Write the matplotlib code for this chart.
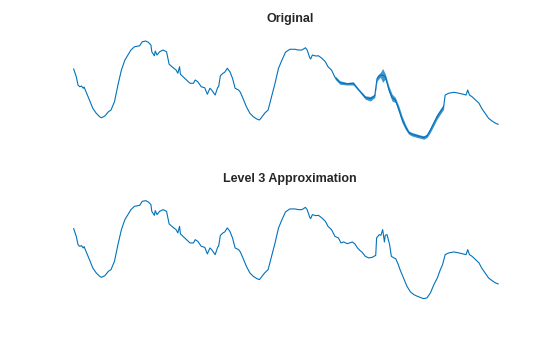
import matplotlib
matplotlib.use("Agg")
import matplotlib.pyplot as plt
import numpy as np

# ---- Original signal (sample index, value) ----
orig_idx = [8, 32, 48, 64, 80, 96, 104, 128, 160, 184, 216, 248, 264, 296, 328, 352, 384, 416, 448, 480,
            512, 536, 568, 616, 640, 672, 696, 720, 728, 752, 760, 776, 800, 832, 864, 888, 920, 952, 968,
            984, 992, 1016, 1048, 1080, 1112, 1128, 1152, 1184, 1216, 1240, 1264, 1280, 1312, 1336, 1344,
            1360, 1384, 1400, 1424, 1448, 1472, 1496, 1528, 1544, 1568, 1600, 1632, 1664, 1696, 1720, 1744,
            1768, 1800, 1832, 1864, 1896, 1928, 1960, 2000, 2048, 2080, 2112, 2144, 2160, 2184, 2192, 2208,
            2240, 2264, 2296, 2328, 2352, 2384]
orig_val = [364, 333, 300, 293, 296, 287, 292, 267, 233, 207, 187, 173, 169, 176, 193, 200, 233, 300, 360, 400,
            423, 440, 453, 457, 473, 476, 471, 460, 433, 417, 436, 420, 433, 440, 433, 383, 371, 360, 347,
            373, 343, 333, 320, 307, 307, 320, 313, 293, 289, 263, 287, 280, 260, 291, 293,
            337, 347, 351, 367, 353, 327, 287, 280, 271, 247, 213, 187, 173, 164, 160, 173,
            187, 200, 253, 307, 367, 400, 431, 443, 443, 440, 440, 449, 440, 409, 404, 420,
            416, 417, 407, 393, 373, 360]

# noisy stretch of the original: lower / upper envelope
band_idx = [2417, 2462, 2525, 2585, 2635, 2696, 2742, 2783, 2804, 2834, 2856, 2880, 2912, 2942, 2973,
            3004, 3034, 3065, 3096, 3126, 3172, 3203, 3234, 3265, 3295, 3326, 3357, 3387, 3418]
band_lo = [323, 303, 300, 300, 276, 243, 236, 250, 316, 331, 311, 323, 271, 236, 230,
           190, 150, 123, 103, 96, 90, 87, 83, 90, 110, 136, 163, 183, 203]
band_hi = [337, 317, 310, 313, 285, 257, 254, 264, 337, 350, 366, 345, 297, 264, 250,
           217, 177, 144, 117, 110, 104, 100, 97, 104, 130, 157, 184, 204, 224]

tail_idx = [3432, 3464, 3512, 3560, 3600, 3624, 3640, 3656, 3680, 3712, 3744, 3768, 3800, 3832, 3864, 3896, 3920]
tail_val = [260, 267, 271, 267, 263, 260, 280, 260, 253, 240, 227, 207, 187, 167, 156, 147, 143]

# ---- Level 3 approximation (coefficient index, value) ----
ca3_idx = [1, 4, 6, 8, 10, 12, 13, 16, 20, 23, 27, 31, 33, 37, 41, 44, 48, 52, 56, 60, 64, 67, 71, 77, 80,
           84, 87, 90, 91, 94, 95, 97, 100, 104, 108, 111, 115, 119, 121, 123, 124, 127, 131, 135, 139,
           141, 144, 148, 152, 155, 158, 160, 164, 167, 168, 170, 173, 175, 178, 181, 184, 187, 191, 193,
           196, 200, 204, 208, 212, 215, 218, 221, 225, 229, 233, 237, 241, 245, 250, 256, 260, 264, 268,
           270, 273, 274, 276, 280, 283, 287, 291, 294, 298, 302, 306, 309, 312, 316, 319, 322, 325, 328,
           331, 333, 337, 341, 345, 349, 350, 353, 355, 357, 359, 360, 362, 365, 367, 370, 372, 375, 377,
           381, 385, 389, 393, 397, 400, 404, 408, 412, 416, 420, 423, 426, 429, 433, 439, 445, 450, 453,
           455, 457, 460, 464, 468, 471, 475, 479, 483, 487, 490]
ca3_val = [910, 833, 750, 733, 740, 717, 730, 667, 583, 517, 467, 433, 423, 440, 483, 500, 583, 750, 900, 1000,
           1057, 1100, 1133, 1143, 1183, 1190, 1177, 1150, 1083, 1043, 1090, 1050, 1083, 1100, 1083, 957,
           927, 900, 867, 933, 857, 833, 800, 767, 767, 800, 783, 733, 723, 657, 717, 700, 650, 727, 733,
           843, 867, 877, 917, 883, 817, 717, 700, 677, 617, 533, 467, 433, 410, 400, 433, 467, 500, 633,
           767, 917, 1000, 1077, 1107, 1107, 1100, 1100, 1123, 1100, 1023, 1010, 1050, 1040, 1043, 1017,
           983, 933, 900, 833, 817, 767, 777, 760, 767, 777, 757, 717, 690, 677, 633, 617, 623, 643, 817,
           850, 843, 900, 777, 843, 850, 750, 633, 617, 610, 550, 500, 417, 333, 277, 250, 233, 223, 210,
           217, 267, 350, 417, 490, 550, 650, 667, 677, 667, 657, 650, 700, 650, 633, 600, 567, 517, 467,
           417, 390, 367, 357]

titles = ["Original", "Level 3 Approximation"]

color = "#0072BD"
fig = plt.figure(figsize=(5.6, 3.37), dpi=100)

ax1 = fig.add_axes([0.13, 0.5838, 0.775, 0.3412])
band_mid = [(a + b) / 2 for a, b in zip(band_lo, band_hi)]
x_all = orig_idx + band_idx + tail_idx
y_all = orig_val + band_mid + tail_val
ax1.plot(x_all, y_all, color=color, lw=0.8)
ax1.fill_between(band_idx, band_lo, band_hi, color=color, lw=0, alpha=0.75)
ax1.set_xlim(0, 4000)
ax1.set_ylim(79, 539)
ax1.axis("off")
ax1.set_title(titles[0], fontsize=9, fontweight="bold", color="#262626",
              family=["Liberation Sans", "DejaVu Sans"], pad=1.5)

ax2 = fig.add_axes([0.13, 0.11, 0.775, 0.3412])
ax2.plot(ca3_idx, ca3_val, color=color, lw=0.8)
ax2.set_xlim(0, 500)
ax2.set_ylim(197, 1347)
ax2.axis("off")
ax2.set_title(titles[1], fontsize=9, fontweight="bold", color="#262626",
              family=["Liberation Sans", "DejaVu Sans"], pad=1.5)

fig.savefig("out.png", dpi=100, facecolor="white")
